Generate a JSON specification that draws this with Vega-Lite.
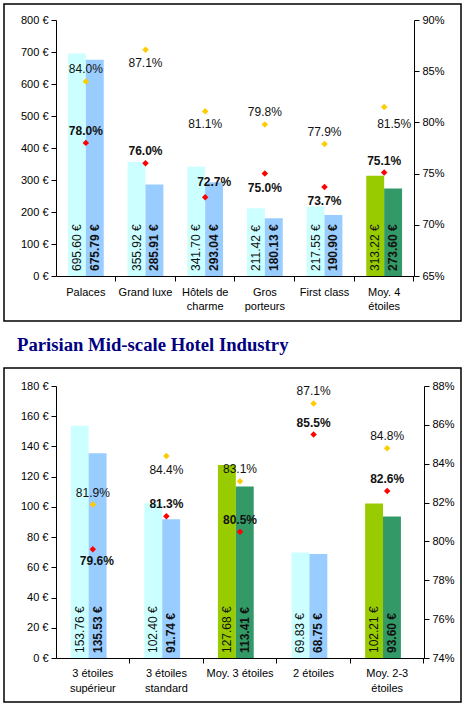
{
  "$schema": "https://vega.github.io/schema/vega-lite/v6.json",
  "background": "white",
  "padding": 3,
  "spacing": 13,
  "datasets": {
    "bars1": [
      {"cat": "Palaces", "s": "a", "v": 695.60}, {"cat": "Palaces", "s": "b", "v": 675.79},
      {"cat": "Grand luxe", "s": "a", "v": 355.92}, {"cat": "Grand luxe", "s": "b", "v": 285.91},
      {"cat": "Hôtels de charme", "s": "a", "v": 341.70}, {"cat": "Hôtels de charme", "s": "b", "v": 293.04},
      {"cat": "Gros porteurs", "s": "a", "v": 211.42}, {"cat": "Gros porteurs", "s": "b", "v": 180.13},
      {"cat": "First class", "s": "a", "v": 217.55}, {"cat": "First class", "s": "b", "v": 190.90},
      {"cat": "Moy. 4 étoiles", "s": "a", "v": 313.22}, {"cat": "Moy. 4 étoiles", "s": "b", "v": 273.60}
    ],
    "occ1": [
      {"cat": "Palaces", "s": "a", "p": 0.840}, {"cat": "Palaces", "s": "b", "p": 0.780},
      {"cat": "Grand luxe", "s": "a", "p": 0.871}, {"cat": "Grand luxe", "s": "b", "p": 0.760},
      {"cat": "Hôtels de charme", "s": "a", "p": 0.811}, {"cat": "Hôtels de charme", "s": "b", "p": 0.727},
      {"cat": "Gros porteurs", "s": "a", "p": 0.798}, {"cat": "Gros porteurs", "s": "b", "p": 0.750},
      {"cat": "First class", "s": "a", "p": 0.779}, {"cat": "First class", "s": "b", "p": 0.737},
      {"cat": "Moy. 4 étoiles", "s": "a", "p": 0.815}, {"cat": "Moy. 4 étoiles", "s": "b", "p": 0.751}
    ],
    "bars2": [
      {"cat": "3 étoiles supérieur", "s": "a", "v": 153.76}, {"cat": "3 étoiles supérieur", "s": "b", "v": 135.53},
      {"cat": "3 étoiles standard", "s": "a", "v": 102.40}, {"cat": "3 étoiles standard", "s": "b", "v": 91.74},
      {"cat": "Moy. 3 étoiles", "s": "a", "v": 127.68}, {"cat": "Moy. 3 étoiles", "s": "b", "v": 113.41},
      {"cat": "2 étoiles", "s": "a", "v": 69.83}, {"cat": "2 étoiles", "s": "b", "v": 68.75},
      {"cat": "Moy. 2-3 étoiles", "s": "a", "v": 102.21}, {"cat": "Moy. 2-3 étoiles", "s": "b", "v": 93.60}
    ],
    "occ2": [
      {"cat": "3 étoiles supérieur", "s": "a", "p": 0.819}, {"cat": "3 étoiles supérieur", "s": "b", "p": 0.796},
      {"cat": "3 étoiles standard", "s": "a", "p": 0.844}, {"cat": "3 étoiles standard", "s": "b", "p": 0.813},
      {"cat": "Moy. 3 étoiles", "s": "a", "p": 0.831}, {"cat": "Moy. 3 étoiles", "s": "b", "p": 0.805},
      {"cat": "2 étoiles", "s": "a", "p": 0.871}, {"cat": "2 étoiles", "s": "b", "p": 0.855},
      {"cat": "Moy. 2-3 étoiles", "s": "a", "p": 0.848}, {"cat": "Moy. 2-3 étoiles", "s": "b", "p": 0.826}
    ]
  },
  "vconcat": [
    {
      "width": 457,
      "height": 317,
      "resolve": {"scale": {"y": "independent", "color": "independent"}, "axis": {"y": "independent"}},
      "layer": [
        {
          "data": {"name": "bars1"},
          "transform": [
            {"calculate": "format(datum.v, '.2f') + ' €'", "as": "lbl"},
            {"calculate": "(indexof(datum.cat, 'Moy') === 0 ? 'avg' : 'std') + datum.s", "as": "grp"}
          ],
          "encoding": {
            "x": {"field": "cat", "type": "nominal", "sort": null,
              "scale": {"range": [52, 410], "paddingInner": 0.4, "paddingOuter": 0.2},
              "axis": {"title": null, "orient": "bottom", "offset": -45, "labels": false, "bandPosition": 1.3333}},
            "xOffset": {"field": "s", "type": "nominal"},
            "y": {"field": "v", "type": "quantitative",
              "scale": {"domain": [0, 800], "range": [272, 16], "nice": false},
              "axis": {"title": null, "orient": "left", "offset": -52, "values": [0, 100, 200, 300, 400, 500, 600, 700, 800], "labelExpr": "datum.value + ' €'"}}
          },
          "layer": [
            {"mark": {"type": "bar"},
             "encoding": {"color": {"field": "grp", "type": "nominal", "legend": null,
               "scale": {"domain": ["stda", "stdb", "avga", "avgb"], "range": ["#CCFFFF", "#99CCFF", "#99CC00", "#339966"]}}}},
            {"transform": [{"filter": "datum.s === 'a'"}],
             "mark": {"type": "text", "angle": 270, "align": "left", "baseline": "middle", "dx": 5, "fontSize": 12, "color": "#111"},
             "encoding": {"y": {"datum": 0, "type": "quantitative"}, "text": {"field": "lbl", "type": "nominal"}}},
            {"transform": [{"filter": "datum.s === 'b'"}],
             "mark": {"type": "text", "angle": 270, "align": "left", "baseline": "middle", "dx": 5, "fontSize": 12, "fontWeight": "bold", "color": "#111"},
             "encoding": {"y": {"datum": 0, "type": "quantitative"}, "text": {"field": "lbl", "type": "nominal"}}}
          ]
        },
        {
          "data": {"name": "occ1"},
          "encoding": {
            "x": {"field": "cat", "type": "nominal", "sort": null},
            "y": {"field": "p", "type": "quantitative",
              "scale": {"domain": [0.65, 0.9], "range": [272, 16], "nice": false, "zero": false},
              "axis": {"title": null, "orient": "right", "offset": -47, "values": [0.65, 0.7, 0.75, 0.8, 0.85, 0.9], "format": ".0%"}}
          },
          "layer": [
            {"mark": {"type": "point", "shape": "diamond", "filled": true, "size": 42, "opacity": 1},
             "encoding": {"color": {"field": "s", "type": "nominal", "legend": null, "scale": {"domain": ["a", "b"], "range": ["#FFCC00", "#FF0000"]}}}},
            {"transform": [{"filter": "datum.s === 'a' && indexof(['Grand luxe', 'Hôtels de charme', 'Moy. 4 étoiles'], datum.cat) < 0"}],
             "mark": {"type": "text", "dy": -12, "fontSize": 12, "baseline": "middle", "color": "#111"},
             "encoding": {"text": {"field": "p", "type": "quantitative", "format": ".1%"}}},
            {"transform": [{"filter": "datum.s === 'a' && indexof(['Grand luxe', 'Hôtels de charme'], datum.cat) >= 0"}],
             "mark": {"type": "text", "dy": 13, "fontSize": 12, "baseline": "middle", "color": "#111"},
             "encoding": {"text": {"field": "p", "type": "quantitative", "format": ".1%"}}},
            {"transform": [{"filter": "datum.s === 'a' && datum.cat === 'Moy. 4 étoiles'"}],
             "mark": {"type": "text", "dy": 17, "dx": 10, "fontSize": 12, "baseline": "middle", "color": "#111"},
             "encoding": {"text": {"field": "p", "type": "quantitative", "format": ".1%"}}},
            {"transform": [{"filter": "datum.s === 'b' && indexof(['Gros porteurs', 'First class', 'Hôtels de charme'], datum.cat) < 0"}],
             "mark": {"type": "text", "dy": -12, "fontSize": 12, "fontWeight": "bold", "baseline": "middle", "color": "#111"},
             "encoding": {"text": {"field": "p", "type": "quantitative", "format": ".1%"}}},
            {"transform": [{"filter": "datum.s === 'b' && indexof(['Gros porteurs', 'First class'], datum.cat) >= 0"}],
             "mark": {"type": "text", "dy": 14, "fontSize": 12, "fontWeight": "bold", "baseline": "middle", "color": "#111"},
             "encoding": {"text": {"field": "p", "type": "quantitative", "format": ".1%"}}},
            {"transform": [{"filter": "datum.s === 'b' && datum.cat === 'Hôtels de charme'"}],
             "mark": {"type": "text", "dy": -15, "dx": 9, "fontSize": 12, "fontWeight": "bold", "baseline": "middle", "color": "#111"},
             "encoding": {"text": {"field": "p", "type": "quantitative", "format": ".1%"}}},
            {"transform": [{"filter": "datum.s === 'a'"},
               {"calculate": "length(datum.cat) > 12 ? substring(datum.cat, 0, lastindexof(datum.cat, ' ')) : datum.cat", "as": "l1"}],
             "mark": {"type": "text", "fontSize": 11, "baseline": "middle", "color": "black"},
             "encoding": {"y": {"datum": 0.6334, "type": "quantitative"}, "text": {"field": "l1", "type": "nominal"}}},
            {"transform": [{"filter": "datum.s === 'a' && length(datum.cat) > 12"},
               {"calculate": "substring(datum.cat, lastindexof(datum.cat, ' ') + 1)", "as": "l2"}],
             "mark": {"type": "text", "fontSize": 11, "baseline": "middle", "color": "black"},
             "encoding": {"y": {"datum": 0.6197, "type": "quantitative"}, "text": {"field": "l2", "type": "nominal"}}}
          ]
        }
      ]
    },
    {
      "width": 457,
      "height": 334,
      "title": {"text": "Parisian Mid-scale Hotel Industry", "anchor": "start", "frame": "group", "dx": 13, "offset": 13,
        "font": "Liberation Serif", "fontSize": 18.7, "fontWeight": "bold", "color": "#000080"},
      "resolve": {"scale": {"y": "independent", "color": "independent"}, "axis": {"y": "independent"}},
      "layer": [
        {
          "data": {"name": "bars2"},
          "transform": [
            {"calculate": "format(datum.v, '.2f') + ' €'", "as": "lbl"},
            {"calculate": "(indexof(datum.cat, 'Moy') === 0 ? 'avg' : 'std') + datum.s", "as": "grp"}
          ],
          "encoding": {
            "x": {"field": "cat", "type": "nominal", "sort": null,
              "scale": {"range": [52, 420], "paddingInner": 0.4, "paddingOuter": 0.2},
              "axis": {"title": null, "orient": "bottom", "offset": -44, "labels": false, "bandPosition": 1.3333}},
            "xOffset": {"field": "s", "type": "nominal"},
            "y": {"field": "v", "type": "quantitative",
              "scale": {"domain": [0, 180], "range": [290, 18], "nice": false},
              "axis": {"title": null, "orient": "left", "offset": -52, "values": [0, 20, 40, 60, 80, 100, 120, 140, 160, 180], "labelExpr": "datum.value + ' €'"}}
          },
          "layer": [
            {"mark": {"type": "bar"},
             "encoding": {"color": {"field": "grp", "type": "nominal", "legend": null,
               "scale": {"domain": ["stda", "stdb", "avga", "avgb"], "range": ["#CCFFFF", "#99CCFF", "#99CC00", "#339966"]}}}},
            {"transform": [{"filter": "datum.s === 'a'"}],
             "mark": {"type": "text", "angle": 270, "align": "left", "baseline": "middle", "dx": 5, "fontSize": 12, "color": "#111"},
             "encoding": {"y": {"datum": 0, "type": "quantitative"}, "text": {"field": "lbl", "type": "nominal"}}},
            {"transform": [{"filter": "datum.s === 'b'"}],
             "mark": {"type": "text", "angle": 270, "align": "left", "baseline": "middle", "dx": 5, "fontSize": 12, "fontWeight": "bold", "color": "#111"},
             "encoding": {"y": {"datum": 0, "type": "quantitative"}, "text": {"field": "lbl", "type": "nominal"}}}
          ]
        },
        {
          "data": {"name": "occ2"},
          "encoding": {
            "x": {"field": "cat", "type": "nominal", "sort": null},
            "y": {"field": "p", "type": "quantitative",
              "scale": {"domain": [0.74, 0.88], "range": [290, 18], "nice": false, "zero": false},
              "axis": {"title": null, "orient": "right", "offset": -37, "values": [0.74, 0.76, 0.78, 0.8, 0.82, 0.84, 0.86, 0.88], "format": ".0%"}}
          },
          "layer": [
            {"mark": {"type": "point", "shape": "diamond", "filled": true, "size": 42, "opacity": 1},
             "encoding": {"color": {"field": "s", "type": "nominal", "legend": null, "scale": {"domain": ["a", "b"], "range": ["#FFCC00", "#FF0000"]}}}},
            {"transform": [{"filter": "datum.s === 'a' && datum.cat !== '3 étoiles standard'"}],
             "mark": {"type": "text", "dy": -12, "fontSize": 12, "baseline": "middle", "color": "#111"},
             "encoding": {"text": {"field": "p", "type": "quantitative", "format": ".1%"}}},
            {"transform": [{"filter": "datum.s === 'a' && datum.cat === '3 étoiles standard'"}],
             "mark": {"type": "text", "dy": 14, "fontSize": 12, "baseline": "middle", "color": "#111"},
             "encoding": {"text": {"field": "p", "type": "quantitative", "format": ".1%"}}},
            {"transform": [{"filter": "datum.s === 'b' && datum.cat !== '3 étoiles supérieur'"}],
             "mark": {"type": "text", "dy": -12, "fontSize": 12, "fontWeight": "bold", "baseline": "middle", "color": "#111"},
             "encoding": {"text": {"field": "p", "type": "quantitative", "format": ".1%"}}},
            {"transform": [{"filter": "datum.s === 'b' && datum.cat === '3 étoiles supérieur'"}],
             "mark": {"type": "text", "dy": 12, "dx": 4, "fontSize": 12, "fontWeight": "bold", "baseline": "middle", "color": "#111"},
             "encoding": {"text": {"field": "p", "type": "quantitative", "format": ".1%"}}},
            {"transform": [{"filter": "datum.s === 'a'"},
               {"calculate": "length(datum.cat) > 14 ? substring(datum.cat, 0, lastindexof(datum.cat, ' ')) : datum.cat", "as": "l1"}],
             "mark": {"type": "text", "fontSize": 11, "baseline": "middle", "color": "black"},
             "encoding": {"y": {"datum": 0.7318, "type": "quantitative"}, "text": {"field": "l1", "type": "nominal"}}},
            {"transform": [{"filter": "datum.s === 'a' && length(datum.cat) > 14"},
               {"calculate": "substring(datum.cat, lastindexof(datum.cat, ' ') + 1)", "as": "l2"}],
             "mark": {"type": "text", "fontSize": 11, "baseline": "middle", "color": "black"},
             "encoding": {"y": {"datum": 0.724, "type": "quantitative"}, "text": {"field": "l2", "type": "nominal"}}}
          ]
        }
      ]
    }
  ],
  "config": {
    "font": "Liberation Sans",
    "view": {"stroke": "black", "strokeWidth": 1.5},
    "axis": {"domainColor": "black", "tickColor": "black", "labelColor": "black", "labelFont": "Liberation Sans", "labelFontSize": 11,
      "tickSize": 5, "domainWidth": 1, "tickWidth": 1, "grid": false, "labelPadding": 3},
    "text": {"font": "Liberation Sans"}
  }
}
